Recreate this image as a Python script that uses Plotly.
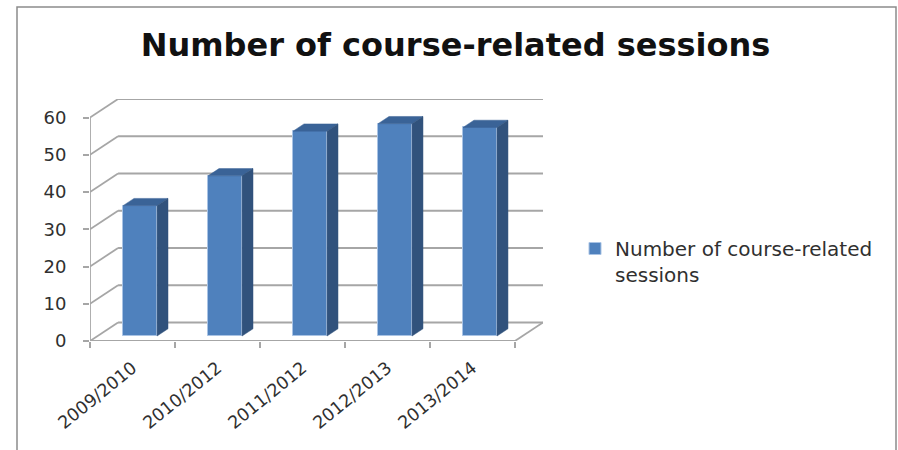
import plotly.graph_objects as go

categories = ["2009/2010", "2010/2012", "2011/2012", "2012/2013", "2013/2014"]
sessions = [35, 43, 55, 57, 56]
y_ticks = [0, 10, 20, 30, 40, 50, 60]
series_name = "Number of course-related<br>sessions"
title_text = "Number of course-related sessions"

# oblique projection of the 3-D box (depth 0..1) in axis units
DX, DY = 0.33, 4.97
NEAR, FAR = 0.27, 0.66
BAR_W = 0.40
FRONT, TOP, SIDE = "#4F81BD", "#3A6397", "#31527C"
GRID = "#A6A6A6"
N = len(categories)
bar_x = [i + 0.5 + NEAR * DX for i in range(N)]
base = NEAR * DY
W, H = 898, 450
ML, MR, MT, MB = 90, 355, 99, 109
PW, PH = W - ML - MR, H - MT - MB


def seg(x0, y0, x1, y1):
    return dict(type="line", xref="x", yref="y", x0=x0, y0=y0, x1=x1, y1=y1,
                layer="below", line=dict(color=GRID, width=1.8))


shapes = []
for t in y_ticks:
    shapes.append(seg(0, t, DX, t + DY))
    shapes.append(seg(DX, t + DY, N + DX, t + DY))
shapes.append(seg(0, y_ticks[0], 0, y_ticks[-1]))
shapes.append(seg(0, 0, N, 0))
shapes.append(seg(N, 0, N + DX, DY))
# chart frame
shapes.append(dict(type="rect", xref="paper", yref="paper", layer="below",
                   x0=(17 - ML) / PW, x1=(896 - ML) / PW,
                   y0=(H - MB - 460) / PH, y1=(H - MB - 7) / PH,
                   line=dict(color="#8C8C8C", width=1.5), fillcolor="rgba(0,0,0,0)"))

fig = go.Figure()
fig.add_trace(go.Bar(
    x=bar_x, y=sessions, base=base, width=BAR_W, name=series_name,
    marker=dict(color=FRONT, line=dict(color="#A9C3E4", width=1)),
    showlegend=True, hoverinfo="skip",
))

dd = FAR - NEAR
for cx, v in zip(bar_x, sessions):
    l, r = cx - BAR_W / 2, cx + BAR_W / 2
    top = base + v
    fig.add_trace(go.Scatter(
        x=[l, r, r + dd * DX, l + dd * DX, l],
        y=[top, top, top + dd * DY, top + dd * DY, top],
        mode="lines", fill="toself", fillcolor=TOP, line=dict(color=TOP, width=0.5),
        showlegend=False, hoverinfo="skip"))
    fig.add_trace(go.Scatter(
        x=[r, r + dd * DX, r + dd * DX, r, r],
        y=[base, base + dd * DY, top + dd * DY, top, base],
        mode="lines", fill="toself", fillcolor=SIDE, line=dict(color=SIDE, width=0.5),
        showlegend=False, hoverinfo="skip"))

fig.update_layout(
    width=W, height=H,
    autosize=False,
    margin=dict(l=ML, r=MR, t=MT, b=MB),
    paper_bgcolor="white", plot_bgcolor="white",
    font=dict(family="DejaVu Sans", color="#303030"),
    title=dict(text=title_text, x=455.5 / W, xanchor="center", xref="container",
               y=1 - 45 / H, yanchor="middle",
               font=dict(family="DejaVu Sans", size=32, color="#111111", weight="bold")),
    bargap=0,
    shapes=shapes,
    xaxis=dict(range=[0, N + DX], tickmode="array",
               tickvals=[i + 0.5 for i in range(N)], ticktext=categories,
               tickangle=-39, ticks="outside", ticklen=0, showgrid=False, zeroline=False,
               showline=False, tickfont=dict(size=17.5), ticklabelstandoff=9,
               minor=dict(tickmode="array", tickvals=list(range(N + 1)), ticks="outside",
                          ticklen=6, tickcolor=GRID, tickwidth=1.5, showgrid=False)),
    yaxis=dict(range=[0, 60 + DY], tickmode="array", tickvals=y_ticks,
               ticks="outside", ticklen=6, tickcolor=GRID, tickwidth=1.5,
               showgrid=False, zeroline=False, showline=False, tickfont=dict(size=18),
               ticklabelstandoff=13),
    legend=dict(x=(579 - ML) / PW, xanchor="left", y=(H - MB - 229) / PH, yanchor="top",
                valign="top", indentation=-4,
                font=dict(size=20, color="#303030"), bgcolor="rgba(0,0,0,0)", itemclick=False),
)

fig.write_html("out.html", post_script="document.body.style.margin='0';",
               config=dict(displayModeBar=False))
